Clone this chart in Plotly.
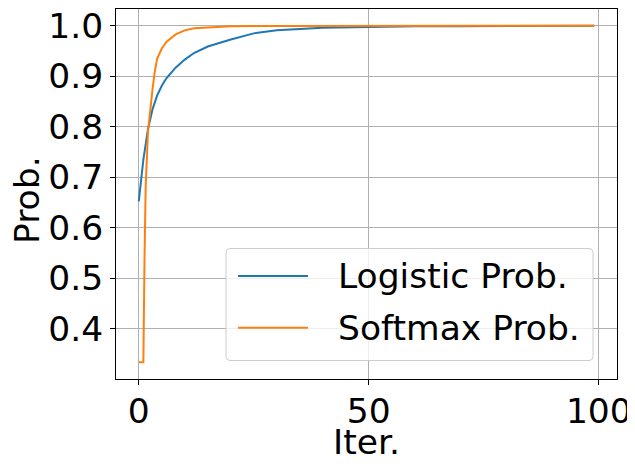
import plotly.graph_objects as go

# Logistic probability
logistic_iter = [0, 1, 2, 3, 4, 5, 6, 8, 10, 12, 15, 20, 25, 30, 40, 50, 60, 70, 80, 90, 99]
logistic_prob = [0.652, 0.735, 0.795, 0.835, 0.862, 0.881, 0.896, 0.917, 0.933, 0.946,
                 0.959, 0.973, 0.985, 0.991, 0.996, 0.998, 0.999, 0.9993, 0.9996, 0.9998, 0.9999]

# Softmax probability
softmax_iter = [0, 1, 1.25, 1.5, 2, 2.5, 3, 3.5, 4, 5, 6, 8, 10, 12, 15, 20, 30, 40, 50, 60, 70, 80, 90, 99]
softmax_prob = [0.3333, 0.3333, 0.54, 0.68, 0.79, 0.835, 0.875, 0.91, 0.935, 0.955, 0.968,
                0.983, 0.991, 0.995, 0.997, 0.999, 0.9998, 0.9999, 1.0, 1.0, 1.0, 1.0, 1.0, 1.0]

x_ticks = [0, 50, 100]
y_ticks = [0.4, 0.5, 0.6, 0.7, 0.8, 0.9, 1.0]
series_names = ["Logistic Prob.", "Softmax Prob."]
series_colors = ["#1f77b4", "#ff7f0e"]

FONT = "DejaVu Sans"
FS = 34.5
OFF = 8  # default page body margin
W, H = 627, 456
ML, MR, MT, MB = 108, 18, 1, 85
PW, PH = W - ML - MR, H - MT - MB


def px_x(p):
    """page pixel x -> paper coordinate"""
    return (p - OFF - ML) / PW


def px_y(p):
    """page pixel y -> paper coordinate"""
    return (OFF + H - MB - p) / PH


fig = go.Figure()
fig.add_trace(go.Scatter(x=logistic_iter, y=logistic_prob, mode="lines",
                         name=series_names[0], line=dict(color=series_colors[0], width=2)))
fig.add_trace(go.Scatter(x=softmax_iter, y=softmax_prob, mode="lines",
                         name=series_names[1], line=dict(color=series_colors[1], width=2)))

axis_common = dict(showline=True, linecolor="black", linewidth=1, mirror=True,
                   showgrid=True, gridcolor="#b0b0b0", gridwidth=0.8,
                   ticks="outside", ticklen=5, tickwidth=1, tickcolor="black",
                   zeroline=False, automargin=False, ticklabeloverflow="allow",
                   tickfont=dict(family=FONT, size=FS, color="black"))

fig.update_xaxes(range=[-4.95, 103.95], tickvals=x_ticks, ticktext=[str(v) for v in x_ticks],
                 ticklabelstandoff=-3, **axis_common)
fig.update_yaxes(range=[0.3, 1.0333], tickvals=y_ticks, ticktext=[f"{v:.1f}" for v in y_ticks],
                 **axis_common)

# axis titles
fig.add_annotation(text="Iter.", xref="paper", yref="paper", x=0.5, y=px_y(442),
                   xanchor="center", yanchor="middle", showarrow=False,
                   font=dict(family=FONT, size=FS, color="black"))
fig.add_annotation(text="Prob.", xref="paper", yref="paper", x=px_x(27), y=px_y(200),
                   xanchor="center", yanchor="middle", showarrow=False, textangle=-90,
                   font=dict(family=FONT, size=FS, color="black"))

# legend box (matplotlib style, rounded corners)
bx0, bx1, by0, by1, r = 226, 593, 248.5, 360.5, 4
path = (f"M {px_x(bx0 + r)},{px_y(by0)} L {px_x(bx1 - r)},{px_y(by0)} "
        f"Q {px_x(bx1)},{px_y(by0)} {px_x(bx1)},{px_y(by0 + r)} "
        f"L {px_x(bx1)},{px_y(by1 - r)} Q {px_x(bx1)},{px_y(by1)} {px_x(bx1 - r)},{px_y(by1)} "
        f"L {px_x(bx0 + r)},{px_y(by1)} Q {px_x(bx0)},{px_y(by1)} {px_x(bx0)},{px_y(by1 - r)} "
        f"L {px_x(bx0)},{px_y(by0 + r)} Q {px_x(bx0)},{px_y(by0)} {px_x(bx0 + r)},{px_y(by0)} Z")
fig.add_shape(type="path", path=path, xref="paper", yref="paper",
              fillcolor="rgba(255,255,255,0.8)", line=dict(color="#cccccc", width=1), layer="above")
row_y = [276, 327.7]
for name, color, ry in zip(series_names, series_colors, row_y):
    fig.add_shape(type="line", xref="paper", yref="paper",
                  x0=px_x(238), x1=px_x(308), y0=px_y(ry), y1=px_y(ry),
                  line=dict(color=color, width=2), layer="above")
    fig.add_annotation(text=name, xref="paper", yref="paper", x=px_x(336), y=px_y(ry),
                       xanchor="left", yanchor="middle", showarrow=False,
                       font=dict(family=FONT, size=FS, color="black"))

fig.update_layout(
    width=W, height=H,
    margin=dict(l=ML, r=MR, t=MT, b=MB),
    paper_bgcolor="white", plot_bgcolor="white",
    font=dict(family=FONT, size=FS, color="black"),
    showlegend=False,
)

fig.write_html("out.html")
